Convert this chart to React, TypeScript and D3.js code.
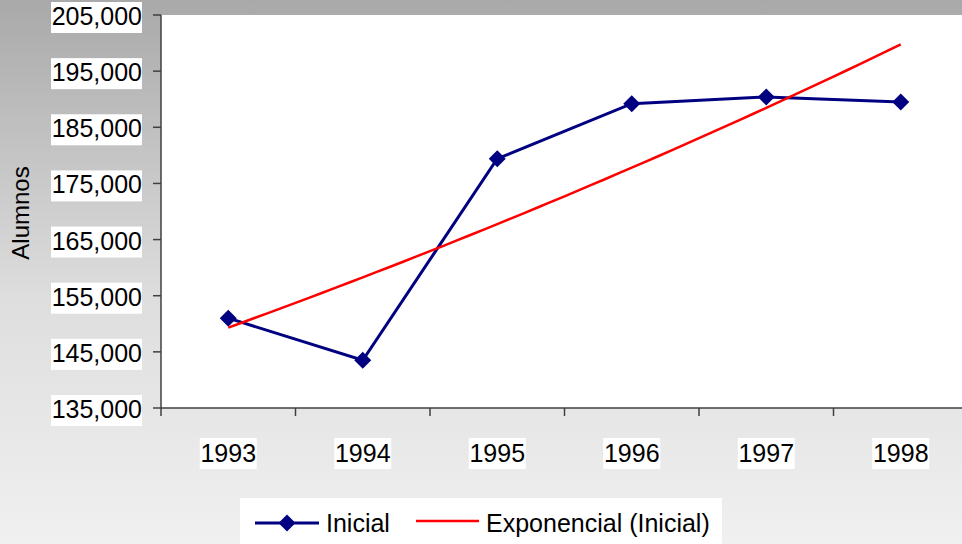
import React from "react";
import * as d3 from "d3";

const years = ["1993", "1994", "1995", "1996", "1997", "1998"];
const inicial = [151000, 143500, 179400, 189200, 190400, 189500];
const yTicks = [135000, 145000, 155000, 165000, 175000, 185000, 195000, 205000];

const W = 962;
const H = 544;
const FONT = "'Liberation Sans', Arial, sans-serif";

export default function App() {
  const left = 161;
  const top = 15;
  const bottom = 408;
  const x = d3.scaleBand<string>().domain(years).range([left, left + 6 * 134.5]).padding(0);
  const y = d3.scaleLinear().domain([135000, 205000]).range([bottom, top]);
  const cx = (i: number) => (x(years[i]) as number) + x.bandwidth() / 2;

  // exponential least-squares fit (Excel trendline)
  const xs = years.map((_, i) => i + 1);
  const ls = inicial.map((v) => Math.log(v));
  const mx = d3.mean(xs) as number;
  const ml = d3.mean(ls) as number;
  const num = d3.sum(xs.map((xv, i) => (xv - mx) * (ls[i] - ml)));
  const den = d3.sum(xs.map((xv) => (xv - mx) * (xv - mx)));
  const b = num / den;
  const a = ml - b * mx;
  const fit = (t: number) => Math.exp(a + b * t);
  const tScale = d3.scaleLinear().domain([1, 6]).range([cx(0), cx(5)]);
  const trendPts = d3.range(0, 51).map((k) => 1 + (5 * k) / 50);

  const line = d3
    .line<number>()
    .x((_, i) => cx(i))
    .y((d) => y(d));
  const trend = d3
    .line<number>()
    .x((t) => tScale(t))
    .y((t) => y(fit(t)));

  const fmt = d3.format(",");
  const diamond = (px: number, py: number, r: number) =>
    `M${px},${py - r}L${px + r},${py}L${px},${py + r}L${px - r},${py}Z`;

  return (
    <svg
      width={W}
      height={H}
      style={{ position: "absolute", left: 0, top: 0, display: "block" }}
      fontFamily={FONT}
    >
      <defs>
        <linearGradient id="bg" x1="0" y1="0" x2="0" y2="1">
          <stop offset="0" stopColor="#a9a9a9" />
          <stop offset="0.55" stopColor="#dedede" />
          <stop offset="1" stopColor="#f0f0f0" />
        </linearGradient>
      </defs>
      <rect x={0} y={0} width={W} height={H} fill="url(#bg)" />
      <rect x={left} y={top} width={W - left} height={bottom - top} fill="#ffffff" />

      {/* y axis */}
      {yTicks.map((t) => (
        <g key={t}>
          <line x1={left - 8} x2={left} y1={y(t)} y2={y(t)} stroke="#404040" strokeWidth={1.5} />
          <rect x={51} y={y(t) - 13} width={91} height={31} fill="#ffffff" />
          <text x={142} y={y(t) + 10} textAnchor="end" fontSize={25} fill="#000">
            {fmt(t)}
          </text>
        </g>
      ))}
      <line x1={left} x2={left} y1={top} y2={bottom + 8} stroke="#404040" strokeWidth={1.5} />

      {/* x axis */}
      <line x1={left} x2={W} y1={bottom} y2={bottom} stroke="#404040" strokeWidth={1.5} />
      {years.map((yr, i) => (
        <g key={yr}>
          <line
            x1={(x(yr) as number) + x.bandwidth()}
            x2={(x(yr) as number) + x.bandwidth()}
            y1={bottom}
            y2={bottom + 8}
            stroke="#404040"
            strokeWidth={1.5}
          />
          <rect x={cx(i) - 28.5} y={438} width={57} height={31} fill="#ffffff" />
          <text x={cx(i)} y={462} textAnchor="middle" fontSize={25} fill="#000">
            {yr}
          </text>
        </g>
      ))}

      {/* axis title */}
      <text
        transform={`translate(29,213) rotate(-90)`}
        textAnchor="middle"
        fontSize={24}
        fill="#000"
      >
        Alumnos
      </text>

      {/* series */}
      <path d={line(inicial) as string} fill="none" stroke="#000080" strokeWidth={3} />
      {inicial.map((v, i) => (
        <path key={i} d={diamond(cx(i), y(v), 8.5)} fill="#000080" />
      ))}
      <path d={trend(trendPts) as string} fill="none" stroke="#ff0000" strokeWidth={2.5} />

      {/* legend */}
      <rect x={240} y={498} width={482} height={50} fill="#ffffff" />
      <line x1={255} x2={319} y1={523} y2={523} stroke="#000080" strokeWidth={3} />
      <path d={diamond(287, 523, 8.5)} fill="#000080" />
      <text x={326} y={532} fontSize={25} fill="#000">
        Inicial
      </text>
      <line x1={416} x2={479} y1={521} y2={521} stroke="#ff0000" strokeWidth={2.5} />
      <text x={486} y={532} fontSize={25} fill="#000">
        Exponencial (Inicial)
      </text>
    </svg>
  );
}
